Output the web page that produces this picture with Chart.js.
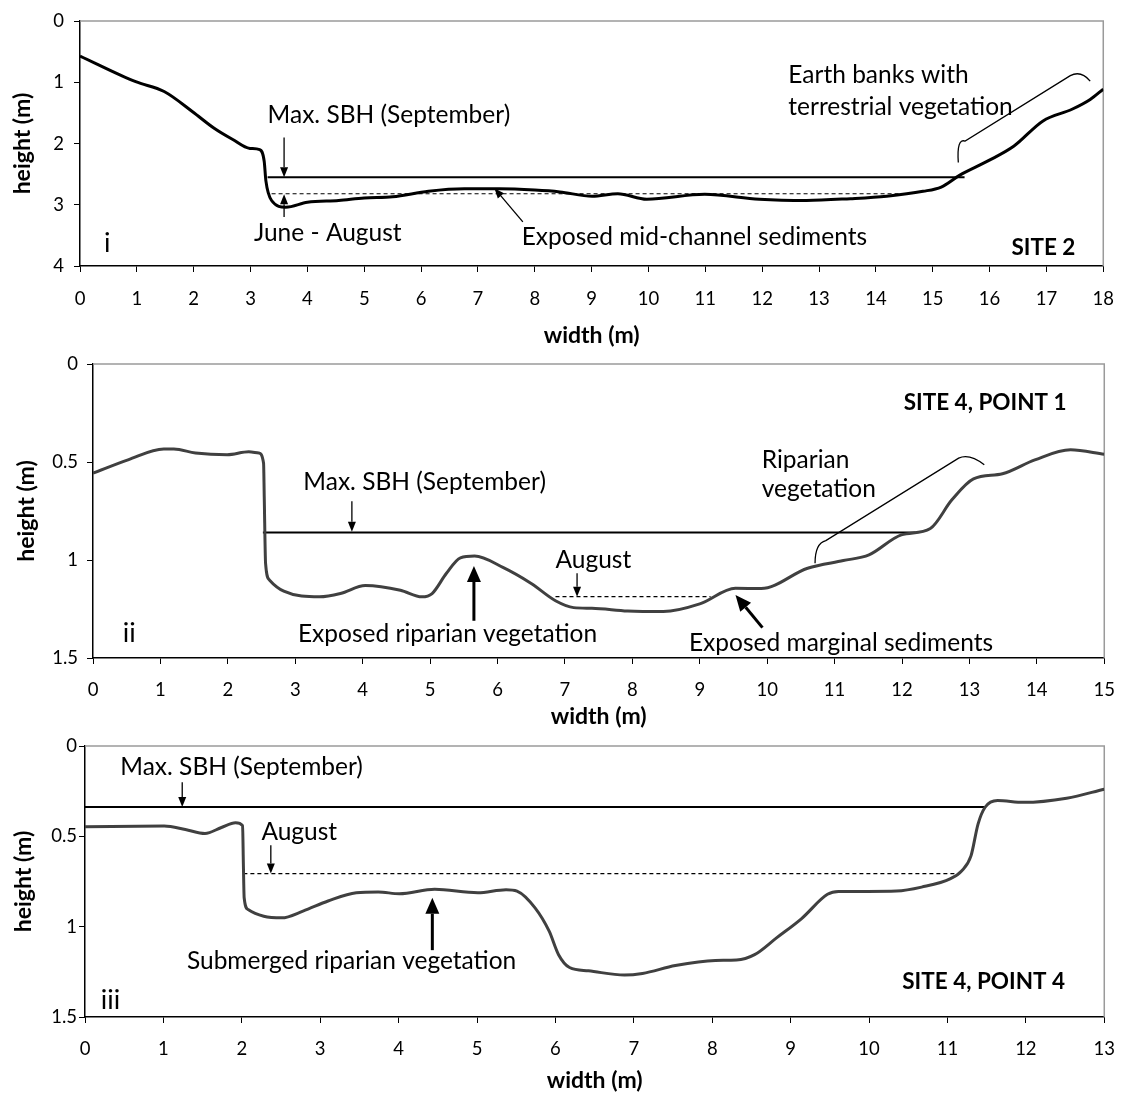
<!DOCTYPE html>
<html>
<head>
<meta charset="utf-8">
<script src="https://cdn.jsdelivr.net/npm/chart.js@4/dist/chart.umd.min.js"></script>
<style>
  html, body { margin: 0; padding: 0; background: #fff; }
  body { position: relative; width: 1130px; height: 1095px; overflow: hidden; }
  canvas { position: absolute; left: 0; }
</style>
</head>
<body>
<script>
const FAMILY = 'Lato, "Open Sans", sans-serif';

// ---- Site 2 cross-section (width m, depth below datum m) ----
const site2Width = [0, 0.98, 1.48, 1.98, 2.36, 2.68, 2.99, 3.16, 3.24, 3.27, 3.37, 3.62, 4.0, 4.55, 5.0, 5.5, 6.13, 6.76, 7.38, 8.0, 8.44, 9.01, 9.46, 9.97, 10.99, 11.95, 12.78, 13.55, 14.19, 14.83, 15.15, 15.47, 15.98, 16.43, 16.94, 17.45, 17.77, 18.0];
const site2Depth = [0.57, 0.99, 1.15, 1.48, 1.75, 1.93, 2.08, 2.10, 2.29, 2.61, 2.93, 3.04, 2.96, 2.93, 2.89, 2.87, 2.78, 2.74, 2.74, 2.76, 2.79, 2.86, 2.82, 2.91, 2.83, 2.91, 2.93, 2.90, 2.86, 2.78, 2.71, 2.52, 2.28, 2.04, 1.63, 1.44, 1.28, 1.11];
const site2SBHWidth = [3.30, 15.56];
const site2SBHDepth = [2.55, 2.55];
const site2LowWidth = [3.37, 14.45];
const site2LowDepth = [2.82, 2.82];
const site2WidthTicks = [0, 1, 2, 3, 4, 5, 6, 7, 8, 9, 10, 11, 12, 13, 14, 15, 16, 17, 18];
const site2DepthTicks = [0, 1, 2, 3, 4];

// ---- Site 4, point 1 ----
const s4p1Width = [0, 0.52, 1.05, 1.2, 1.52, 1.99, 2.31, 2.46, 2.53, 2.54, 2.56, 2.62, 2.83, 3.36, 3.67, 4.04, 4.56, 4.88, 5.03, 5.24, 5.45, 5.66, 6.08, 6.5, 6.86, 7.13, 7.4, 7.93, 8.46, 9.0, 9.53, 9.91, 10.6, 11.13, 11.51, 11.99, 12.42, 12.74, 13.06, 13.49, 13.97, 14.5, 15.0];
const s4p1Depth = [0.557, 0.489, 0.434, 0.434, 0.454, 0.463, 0.448, 0.454, 0.506, 0.677, 1.018, 1.103, 1.159, 1.188, 1.171, 1.130, 1.154, 1.188, 1.171, 1.069, 0.989, 0.980, 1.038, 1.120, 1.208, 1.243, 1.246, 1.260, 1.263, 1.224, 1.144, 1.146, 1.042, 1.003, 0.974, 0.872, 0.839, 0.693, 0.586, 0.560, 0.489, 0.438, 0.460];
const s4p1SBHWidth = [2.52, 12.2];
const s4p1SBHDepth = [0.860, 0.860];
const s4p1AugWidth = [6.86, 9.16];
const s4p1AugDepth = [1.187, 1.187];
const s4p1WidthTicks = [0, 1, 2, 3, 4, 5, 6, 7, 8, 9, 10, 11, 12, 13, 14, 15];
const s4p1DepthTicks = [0, 0.5, 1, 1.5];

// ---- Site 4, point 4 ----
const s4p4Width = [0, 1.01, 1.28, 1.53, 1.74, 1.92, 2.01, 2.02, 2.03, 2.08, 2.28, 2.51, 2.78, 3.10, 3.46, 3.74, 4.01, 4.46, 5.01, 5.37, 5.51, 5.74, 5.92, 6.04, 6.18, 6.42, 6.88, 7.11, 7.53, 8.04, 8.31, 8.54, 8.82, 9.14, 9.47, 9.61, 9.98, 10.35, 10.67, 11.04, 11.18, 11.30, 11.39, 11.48, 11.64, 11.97, 12.52, 13.0];
const s4p4Depth = [0.447, 0.443, 0.462, 0.484, 0.451, 0.425, 0.441, 0.655, 0.840, 0.905, 0.942, 0.951, 0.914, 0.858, 0.812, 0.808, 0.818, 0.793, 0.812, 0.795, 0.803, 0.896, 1.025, 1.155, 1.226, 1.244, 1.268, 1.259, 1.215, 1.187, 1.185, 1.155, 1.062, 0.955, 0.821, 0.805, 0.805, 0.803, 0.781, 0.734, 0.692, 0.608, 0.432, 0.339, 0.302, 0.312, 0.289, 0.239];
const s4p4SBHWidth = [0, 11.48];
const s4p4SBHDepth = [0.337, 0.337];
const s4p4AugWidth = [2.02, 11.11];
const s4p4AugDepth = [0.706, 0.706];
const s4p4WidthTicks = [0, 1, 2, 3, 4, 5, 6, 7, 8, 9, 10, 11, 12, 13];
const s4p4DepthTicks = [0, 0.5, 1, 1.5];

const zip = (xs, ys) => xs.map((x, i) => ({ x, y: ys[i] }));

// Frame, arrows, brackets and labels placed in data coordinates
const notesPlugin = {
  id: 'notes',
  beforeDatasetsDraw(chart) {
    const { ctx, chartArea: a } = chart;
    ctx.save();
    ctx.strokeStyle = '#9a9a9a';
    ctx.lineWidth = 1.5;
    ctx.beginPath();
    ctx.moveTo(a.left, a.top);
    ctx.lineTo(a.right, a.top);
    ctx.lineTo(a.right, a.bottom);
    ctx.stroke();
    ctx.restore();
  },
  afterDatasetsDraw(chart, args, opts) {
    const { ctx, scales: { x, y } } = chart;
    const P = (p) => [x.getPixelForValue(p[0]), y.getPixelForValue(p[1])];
    ctx.save();
    (opts.brackets || []).forEach(b => {
      const [p0, c1, p1, p2, c2, p3] = b.map(P);
      ctx.strokeStyle = '#000';
      ctx.lineWidth = 1.3;
      ctx.beginPath();
      ctx.moveTo(...p0);
      ctx.quadraticCurveTo(...c1, ...p1);
      ctx.lineTo(...p2);
      ctx.quadraticCurveTo(...c2, ...p3);
      ctx.stroke();
    });
    (opts.arrows || []).forEach(ar => {
      const [x0, y0] = P(ar.from);
      const [x1, y1] = P(ar.to);
      const ang = Math.atan2(y1 - y0, x1 - x0);
      const hl = ar.head, hw = ar.headW;
      const bx = x1 - hl * Math.cos(ang), by = y1 - hl * Math.sin(ang);
      ctx.strokeStyle = '#000';
      ctx.fillStyle = '#000';
      ctx.lineWidth = ar.width;
      ctx.beginPath();
      ctx.moveTo(x0, y0);
      ctx.lineTo(bx, by);
      ctx.stroke();
      ctx.beginPath();
      ctx.moveTo(x1, y1);
      ctx.lineTo(bx + hw / 2 * Math.sin(ang), by - hw / 2 * Math.cos(ang));
      ctx.lineTo(bx - hw / 2 * Math.sin(ang), by + hw / 2 * Math.cos(ang));
      ctx.closePath();
      ctx.fill();
    });
    (opts.labels || []).forEach(l => {
      const [px, py] = P([l.x, l.y]);
      ctx.font = (l.bold ? 'bold ' : '') + (l.size || 24.5) + 'px ' + FAMILY;
      ctx.fillStyle = '#000';
      ctx.textAlign = l.align || 'left';
      ctx.textBaseline = 'middle';
      ctx.fillText(l.text, px, py);
    });
    ctx.restore();
  }
};

function section(cfg) {
  const canvas = document.createElement('canvas');
  canvas.width = 1130;
  canvas.height = cfg.height;
  canvas.style.top = cfg.top + 'px';
  document.body.appendChild(canvas);

  const tickFont = { family: FAMILY, size: 18.5 };
  const titleSize = 23;
  const titleFont = { family: FAMILY, size: titleSize, weight: 'bold', lineHeight: 1.2 };
  const half = titleSize * 1.2 / 2;

  new Chart(canvas, {
    type: 'line',
    data: {
      datasets: [
        { data: zip(cfg.width, cfg.depth), borderColor: cfg.color, borderWidth: 3, pointRadius: 0, cubicInterpolationMode: 'monotone', fill: false },
        { data: zip(cfg.sbhW, cfg.sbhD), borderColor: '#000', borderWidth: 2, pointRadius: 0, tension: 0 },
        { data: zip(cfg.lowW, cfg.lowD), borderColor: '#000', borderWidth: 1.2, borderDash: [4, 3], pointRadius: 0, tension: 0 }
      ]
    },
    options: {
      responsive: false,
      animation: false,
      devicePixelRatio: 1,
      events: [],
      layout: {
        padding: {
          left: cfg.yTitleX - half,
          right: 1130 - cfg.right,
          top: cfg.areaTop,
          bottom: cfg.height - (cfg.xTitleY + half)
        }
      },
      plugins: {
        legend: { display: false },
        tooltip: { enabled: false },
        notes: cfg.notes
      },
      scales: {
        x: {
          type: 'linear',
          position: 'bottom',
          min: cfg.xTicks[0],
          max: cfg.xTicks[cfg.xTicks.length - 1],
          afterBuildTicks: s => { s.ticks = cfg.xTicks.map(v => ({ value: v })); },
          afterFit: s => { s.height = cfg.xTitleY + half - cfg.areaBottom; },
          ticks: { font: tickFont, color: '#000', padding: cfg.xTickPad, maxRotation: 0, autoSkip: false, callback: v => String(v) },
          grid: { display: true, drawOnChartArea: false, drawTicks: true, tickLength: 6, color: '#000', lineWidth: 1 },
          border: { display: true, color: '#000', width: 1.5 },
          title: { display: true, text: 'width (m)', font: titleFont, color: '#000', padding: 0 }
        },
        y: {
          type: 'linear',
          reverse: true,
          min: cfg.yTicks[0],
          max: cfg.yTicks[cfg.yTicks.length - 1],
          afterBuildTicks: s => { s.ticks = cfg.yTicks.map(v => ({ value: v })); },
          afterFit: s => { s.width = cfg.left - (cfg.yTitleX - half); },
          ticks: { font: tickFont, color: '#000', padding: cfg.yTickPad, callback: v => String(v) },
          grid: { display: true, drawOnChartArea: false, drawTicks: true, tickLength: 6, color: '#000', lineWidth: 1 },
          border: { display: true, color: '#000', width: 1.5 },
          title: { display: true, text: 'height (m)', font: titleFont, color: '#000', padding: 0 }
        }
      }
    },
    plugins: [notesPlugin]
  });
}

const thin = { width: 1.3, head: 10, headW: 8 };
const thick = { width: 3, head: 16, headW: 14 };

section({
  top: 0, height: 350,
  left: 80, right: 1104, areaTop: 19, areaBottom: 266,
  yTitleX: 23, xTitleY: 336, xTickPad: 16, yTickPad: 10,
  color: '#000',
  width: site2Width, depth: site2Depth,
  sbhW: site2SBHWidth, sbhD: site2SBHDepth,
  lowW: site2LowWidth, lowD: site2LowDepth,
  xTicks: site2WidthTicks, yTicks: site2DepthTicks,
  notes: {
    arrows: [
      { from: [3.59, 1.90], to: [3.59, 2.55], ...thin },
      { from: [3.59, 3.20], to: [3.59, 2.83], ...thin },
      { from: [7.79, 3.28], to: [7.29, 2.73], ...thin }
    ],
    brackets: [
      [[15.45, 2.31], [15.42, 1.91], [15.57, 1.96], [17.42, 0.89], [17.61, 0.80], [17.77, 0.98]]
    ],
    labels: [
      { text: 'Max. SBH (September)', x: 3.30, y: 1.53 },
      { text: 'June - August', x: 3.06, y: 3.46 },
      { text: 'Exposed mid-channel sediments', x: 7.77, y: 3.53 },
      { text: 'Earth banks with', x: 12.46, y: 0.89 },
      { text: 'terrestrial vegetation', x: 12.46, y: 1.41 },
      { text: 'i', x: 0.42, y: 3.63, size: 27 },
      { text: 'SITE 2', x: 17.51, y: 3.71, bold: true, align: 'right', size: 22.5 }
    ]
  }
});

section({
  top: 340, height: 400,
  left: 93, right: 1114, areaTop: 24, areaBottom: 318,
  yTitleX: 27, xTitleY: 377, xTickPad: 15, yTickPad: 9,
  color: '#404040',
  width: s4p1Width, depth: s4p1Depth,
  sbhW: s4p1SBHWidth, sbhD: s4p1SBHDepth,
  lowW: s4p1AugWidth, lowD: s4p1AugDepth,
  xTicks: s4p1WidthTicks, yTicks: s4p1DepthTicks,
  notes: {
    arrows: [
      { from: [3.84, 0.70], to: [3.84, 0.856], ...thin },
      { from: [5.65, 1.31], to: [5.65, 1.03], ...thick },
      { from: [7.18, 1.068], to: [7.18, 1.187], ...thin },
      { from: [9.93, 1.345], to: [9.53, 1.178], ...thick }
    ],
    brackets: [
      [[10.71, 1.017], [10.71, 0.914], [10.87, 0.901], [12.84, 0.480], [13.0, 0.455], [13.22, 0.514]]
    ],
    labels: [
      { text: 'Max. SBH (September)', x: 3.12, y: 0.605 },
      { text: 'August', x: 6.86, y: 1.0 },
      { text: 'Exposed riparian vegetation', x: 3.04, y: 1.376 },
      { text: 'Exposed marginal sediments', x: 8.84, y: 1.425 },
      { text: 'Riparian', x: 9.92, y: 0.489 },
      { text: 'vegetation', x: 9.92, y: 0.639 },
      { text: 'ii', x: 0.44, y: 1.376, size: 27 },
      { text: 'SITE 4, POINT 1', x: 14.44, y: 0.199, bold: true, align: 'right', size: 22.5 }
    ]
  }
});

section({
  top: 730, height: 365,
  left: 85, right: 1106, areaTop: 16, areaBottom: 287,
  yTitleX: 24, xTitleY: 351, xTickPad: 15, yTickPad: 2,
  color: '#404040',
  width: s4p4Width, depth: s4p4Depth,
  sbhW: s4p4SBHWidth, sbhD: s4p4SBHDepth,
  lowW: s4p4AugWidth, lowD: s4p4AugDepth,
  xTicks: s4p4WidthTicks, yTicks: s4p4DepthTicks,
  notes: {
    arrows: [
      { from: [1.24, 0.20], to: [1.24, 0.337], ...thin },
      { from: [2.37, 0.55], to: [2.37, 0.706], ...thin },
      { from: [4.43, 1.13], to: [4.43, 0.84], ...thick }
    ],
    labels: [
      { text: 'Max. SBH (September)', x: 0.45, y: 0.117 },
      { text: 'August', x: 2.25, y: 0.478 },
      { text: 'Submerged riparian vegetation', x: 1.30, y: 1.192 },
      { text: 'iii', x: 0.20, y: 1.405, size: 27 },
      { text: 'SITE 4, POINT 4', x: 12.5, y: 1.307, bold: true, align: 'right', size: 22.5 }
    ]
  }
});
</script>
</body>
</html>
